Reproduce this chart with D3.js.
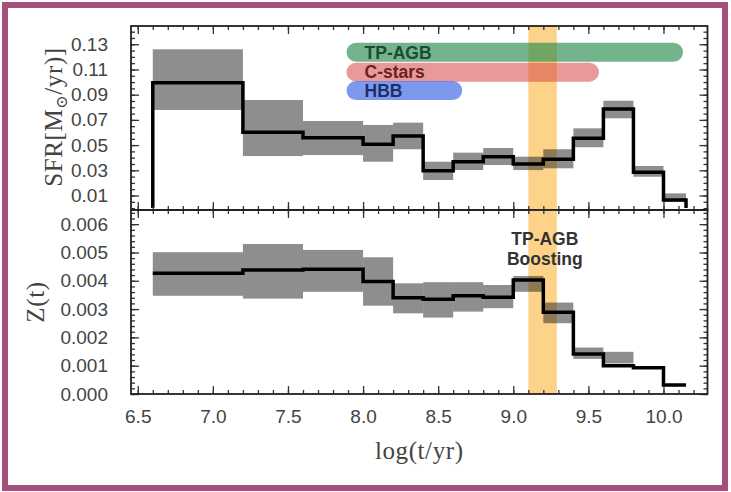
<!DOCTYPE html>
<html>
<head>
<meta charset="utf-8">
<script src="https://cdn.jsdelivr.net/npm/d3@7"></script>
<style>
body { margin: 0; background: #fff; }
svg { display: block; }
.tick text { font-family: "Liberation Sans", Arial, sans-serif; font-size: 19px; fill: #444; }
.tick line { stroke: #333; stroke-width: 1.3; }
.domain { stroke: none; }
.title { font-family: "Liberation Serif", "DejaVu Serif", serif; font-size: 25px; fill: #444; letter-spacing: 0.6px; }
</style>
</head>
<body>
<svg id="plot"></svg>
<script>
var width = 731;
var height = 492;
var svg = d3.select("#plot")
    .attr("width", width)
    .attr("height", height);

// bin edges in log(t/yr)
var binEdges = [6.6, 7.2, 7.6, 8.0, 8.2, 8.4, 8.6, 8.8, 9.0, 9.2, 9.4, 9.6, 9.8, 10.0, 10.15];

// star formation rate per bin, with its band
var sfr   = [0.0995, 0.0602, 0.0559, 0.0506, 0.0572, 0.0297, 0.0368, 0.0408, 0.0350, 0.0387, 0.0554, 0.0787, 0.0284, 0.0064];
var sfrHi = [0.1260, 0.0858, 0.0691, 0.0660, 0.0678, 0.0368, 0.0440, 0.0477, 0.0408, 0.0467, 0.0633, 0.0852, 0.0334, 0.0117];
var sfrLo = [0.0779, 0.0413, 0.0421, 0.0368, 0.0467, 0.0223, 0.0302, 0.0342, 0.0302, 0.0316, 0.0483, 0.0713, 0.0249, 0.0050];

// metallicity per bin, with its band
var met   = [0.00427, 0.00438, 0.00441, 0.00397, 0.00340, 0.00335, 0.00347, 0.00342, 0.00403, 0.00289, 0.00141, 0.00100, 0.00093, 0.00032];
var metHi = [0.00501, 0.00530, 0.00509, 0.00483, 0.00391, 0.00395, 0.00395, 0.00385, 0.00417, 0.00323, 0.00164, 0.00149, 0.00093, 0.00032];
var metLo = [0.00347, 0.00337, 0.00361, 0.00312, 0.00285, 0.00270, 0.00291, 0.00303, 0.00361, 0.00250, 0.00124, 0.00108, 0.00093, 0.00032];

// boosting window
var boostRange = [9.1, 9.29];
var boostLabel = ["TP-AGB", "Boosting"];
var boostLabelPos = [9.21, 0.0055];

// phase bars in the top panel
var phaseNames = ["TP-AGB", "C-stars", "HBB"];
var phaseStart = [7.89, 7.89, 7.89];
var phaseEnd   = [10.13, 9.57, 8.66];
var phaseLevel = [0.1237, 0.1079, 0.0933];
var phaseFill  = ["rgba(40,140,80,0.65)", "rgba(215,70,70,0.55)", "rgba(70,110,230,0.7)"];
var phaseText  = ["#1d4a32", "#6a2222", "#1d2d6a"];

var xTicks = [6.5, 7.0, 7.5, 8.0, 8.5, 9.0, 9.5, 10.0];
var sfrTicks = [0.01, 0.03, 0.05, 0.07, 0.09, 0.11, 0.13];
var zTicks = [0.000, 0.001, 0.002, 0.003, 0.004, 0.005, 0.006];

var pLeft = 131, pRight = 707.5, pTop = 26, pMid = 210, pBottom = 394;

var xScale = d3.scaleLinear().domain([6.455, 10.293]).range([pLeft, pRight]);
var ySfr = d3.scaleLinear().domain([-0.0015, 0.1445]).range([pMid, pTop]);
var yZ = d3.scaleLinear().domain([0, 0.0065]).range([pBottom, pMid]);

var xMinor = d3.range(65, 103).map(function (d) { return d / 10; });
var sfrMinor = d3.range(0, 29).map(function (d) { return d * 0.005; });
var zMinor = d3.range(0, 33).map(function (d) { return d * 0.0002; });

// outer frame
svg.append("rect")
    .attr("x", 5).attr("y", 5)
    .attr("width", 720).attr("height", 483)
    .attr("fill", "#fff")
    .attr("stroke", "#a64f7e")
    .attr("stroke-width", 6);

function stepPoints(vals, dropStart, dropEnd) {
    var pts = [];
    if (dropStart) pts.push([binEdges[0], 0]);
    for (var i = 0; i < vals.length; i++) {
        pts.push([binEdges[i], vals[i]]);
        pts.push([binEdges[i + 1], vals[i]]);
    }
    if (dropEnd) pts.push([binEdges[binEdges.length - 1], 0]);
    return pts;
}

function drawPanel(g, yScale, vals, hi, lo) {
    // boost window
    g.append("rect")
        .attr("x", xScale(boostRange[0]))
        .attr("width", xScale(boostRange[1]) - xScale(boostRange[0]))
        .attr("y", yScale.range()[1])
        .attr("height", yScale.range()[0] - yScale.range()[1])
        .attr("fill", "#fdd38a");

    g.selectAll(".band")
        .data(vals)
        .enter()
        .append("rect")
        .attr("class", "band")
        .attr("x", function (d, i) { return xScale(binEdges[i]); })
        .attr("width", function (d, i) { return xScale(binEdges[i + 1]) - xScale(binEdges[i]); })
        .attr("y", function (d, i) { return yScale(hi[i]); })
        .attr("height", function (d, i) { return yScale(lo[i]) - yScale(hi[i]); })
        .attr("fill", "rgba(30,30,30,0.5)");
}

function drawLine(g, yScale, vals, dropEnds) {
    var line = d3.line()
        .x(function (d) { return xScale(d[0]); })
        .y(function (d) { return yScale(d[1]); });
    g.append("path")
        .datum(stepPoints(vals, dropEnds, dropEnds))
        .attr("d", line)
        .attr("fill", "none")
        .attr("stroke", "#000")
        .attr("stroke-width", 3.5)
        .attr("stroke-linejoin", "miter");
}

function drawAxes(g, yScale, yMajor, yMinorVals, yFormat, showX) {
    var y0 = yScale.range()[0], y1 = yScale.range()[1];
    // x ticks, bottom and top of panel
    g.append("g").attr("transform", "translate(0," + y0 + ")")
        .call(d3.axisBottom(xScale).tickValues(xMinor).tickSize(-4).tickFormat(""));
    g.append("g").attr("transform", "translate(0," + y0 + ")")
        .call(d3.axisBottom(xScale).tickValues(xTicks).tickSize(-8).tickPadding(16)
            .tickFormat(showX ? d3.format(".1f") : ""));
    g.append("g").attr("transform", "translate(0," + y1 + ")")
        .call(d3.axisTop(xScale).tickValues(xMinor).tickSize(-4).tickFormat(""));
    g.append("g").attr("transform", "translate(0," + y1 + ")")
        .call(d3.axisTop(xScale).tickValues(xTicks).tickSize(-8).tickFormat(""));
    // y ticks, left and right
    g.append("g").attr("transform", "translate(" + pLeft + ",0)")
        .call(d3.axisLeft(yScale).tickValues(yMinorVals).tickSize(-4).tickFormat(""));
    g.append("g").attr("transform", "translate(" + pLeft + ",0)")
        .call(d3.axisLeft(yScale).tickValues(yMajor).tickSize(-8).tickPadding(23).tickFormat(yFormat));
    g.append("g").attr("transform", "translate(" + pRight + ",0)")
        .call(d3.axisRight(yScale).tickValues(yMinorVals).tickSize(-4).tickFormat(""));
    g.append("g").attr("transform", "translate(" + pRight + ",0)")
        .call(d3.axisRight(yScale).tickValues(yMajor).tickSize(-8).tickFormat(""));

    g.append("rect")
        .attr("x", pLeft).attr("y", y1)
        .attr("width", pRight - pLeft).attr("height", y0 - y1)
        .attr("fill", "none")
        .attr("stroke", "#222")
        .attr("stroke-width", 1.8);
}

var topPanel = svg.append("g");
var botPanel = svg.append("g");

drawPanel(topPanel, ySfr, sfr, sfrHi, sfrLo);
drawPanel(botPanel, yZ, met, metHi, metLo);

// phase bars
topPanel.selectAll(".phase")
    .data(phaseNames)
    .enter()
    .append("rect")
    .attr("class", "phase")
    .attr("x", function (d, i) { return xScale(phaseStart[i]); })
    .attr("width", function (d, i) { return xScale(phaseEnd[i]) - xScale(phaseStart[i]); })
    .attr("y", function (d, i) { return ySfr(phaseLevel[i]) - 9.5; })
    .attr("height", 19)
    .attr("rx", 9.5)
    .attr("fill", function (d, i) { return phaseFill[i]; });
topPanel.selectAll(".phase-label")
    .data(phaseNames)
    .enter()
    .append("text")
    .attr("class", "phase-label")
    .attr("x", function (d, i) { return xScale(phaseStart[i]) + 18; })
    .attr("y", function (d, i) { return ySfr(phaseLevel[i]) + 6.3; })
    .attr("font-family", "'Liberation Sans', Arial, sans-serif")
    .attr("font-weight", "bold")
    .attr("font-size", "17.5px")
    .attr("fill", function (d, i) { return phaseText[i]; })
    .text(function (d) { return d; });

drawLine(topPanel, ySfr, sfr, true);
drawLine(botPanel, yZ, met, false);

botPanel.selectAll(".boost-label")
    .data(boostLabel)
    .enter()
    .append("text")
    .attr("class", "boost-label")
    .attr("x", xScale(boostLabelPos[0]))
    .attr("y", function (d, i) { return yZ(boostLabelPos[1]) + 6.5 + i * 20; })
    .attr("text-anchor", "middle")
    .attr("font-family", "'Liberation Sans', Arial, sans-serif")
    .attr("font-weight", "bold")
    .attr("font-size", "17.5px")
    .attr("fill", "#333")
    .text(function (d) { return d; });

drawAxes(topPanel, ySfr, sfrTicks, sfrMinor, d3.format(".2f"), false);
drawAxes(botPanel, yZ, zTicks, zMinor, d3.format(".3f"), true);

// axis titles
svg.append("text")
    .attr("class", "title")
    .attr("text-anchor", "middle")
    .attr("x", (pLeft + pRight) / 2)
    .attr("y", 459)
    .text("log(t/yr)");

var sfrTitle = svg.append("text")
    .attr("class", "title")
    .attr("text-anchor", "middle")
    .attr("transform", "translate(62," + ((pTop + pMid) / 2 - 1) + ") rotate(-90)");
sfrTitle.append("tspan").text("SFR[M");
sfrTitle.append("tspan").attr("font-size", "16px").attr("dy", 5).text("⊙");
sfrTitle.append("tspan").attr("dy", -5).text("/yr)]");

svg.append("text")
    .attr("class", "title")
    .attr("text-anchor", "middle")
    .attr("transform", "translate(44," + ((pMid + pBottom) / 2) + ") rotate(-90)")
    .text("Z(t)");
</script>
</body>
</html>
